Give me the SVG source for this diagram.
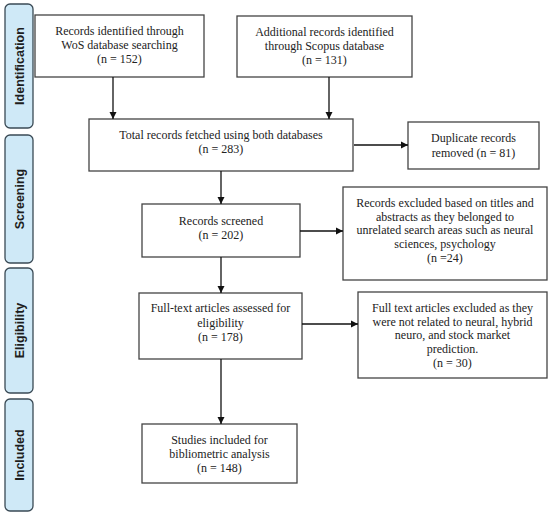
<svg xmlns="http://www.w3.org/2000/svg" width="550" height="517" viewBox="0 0 550 517">
<style>
.stage rect{fill:#cfe9f7;stroke:#3a4a55;stroke-width:1.3}
.stage text{font-family:"Liberation Sans",Arial,sans-serif;font-weight:bold;font-size:12.5px;fill:#1e1e1e;text-anchor:middle}
.box rect{fill:#fff;stroke:#444;stroke-width:1.3}
.box text{font-family:"Liberation Serif","Times New Roman",serif;font-size:12px;fill:#222;text-anchor:middle}
.conn line{stroke:#111;stroke-width:1.3;marker-end:url(#ah)}
</style>
<defs>
<marker id="ah" markerWidth="8" markerHeight="8" refX="7" refY="4" orient="auto" markerUnits="userSpaceOnUse">
<path d="M0,0.5 L7,4 L0,7.5 Z" fill="#111"/>
</marker>
</defs>
<rect width="550" height="517" fill="#fff"/>
<g id="stage-identification" class="stage"><rect x="5" y="4" width="28" height="124" rx="5"/><text transform="translate(23.5,66) rotate(-90)">Identification</text></g>
<g id="stage-screening" class="stage"><rect x="5" y="135" width="28" height="128" rx="5"/><text transform="translate(23.5,199) rotate(-90)">Screening</text></g>
<g id="stage-eligibility" class="stage"><rect x="5" y="268" width="28" height="125" rx="5"/><text transform="translate(23.5,330.5) rotate(-90)">Eligibility</text></g>
<g id="stage-included" class="stage"><rect x="5" y="399" width="28" height="112" rx="5"/><text transform="translate(23.5,455) rotate(-90)">Included</text></g>

<g id="n-wos" class="box"><rect x="35" y="15" width="169" height="62"/><text x="119.5" y="35">Records identified through</text><text x="119.5" y="48.5">WoS database searching</text><text x="119.5" y="62.5">(n = 152)</text></g>
<g id="n-scopus" class="box"><rect x="237" y="16" width="175" height="61"/><text x="324.5" y="36">Additional records identified</text><text x="324.5" y="49.5">through Scopus database</text><text x="324.5" y="63.5">(n = 131)</text></g>
<g id="n-total" class="box"><rect x="89" y="119" width="264" height="52"/><text x="221" y="139">Total records fetched using both databases</text><text x="221" y="152.5">(n = 283)</text></g>
<g id="n-dup" class="box"><rect x="408" y="122" width="131" height="47"/><text x="473.5" y="142">Duplicate records</text><text x="473.5" y="157">removed (n = 81)</text></g>
<g id="n-screened" class="box"><rect x="142" y="204" width="158" height="53"/><text x="221" y="225">Records screened</text><text x="221" y="238.5">(n = 202)</text></g>
<g id="n-excl1" class="box"><rect x="343" y="187" width="204" height="93"/><text x="445" y="207">Records excluded based on titles and</text><text x="445" y="220.7">abstracts as they belonged to</text><text x="445" y="234.4">unrelated search areas such as neural</text><text x="445" y="248">sciences, psychology</text><text x="445" y="262">(n =24)</text></g>
<g id="n-fulltext" class="box"><rect x="139" y="293" width="163" height="66"/><text x="220.5" y="312">Full-text articles assessed for</text><text x="220.5" y="326.5">eligibility</text><text x="220.5" y="341">(n = 178)</text></g>
<g id="n-excl2" class="box"><rect x="358" y="292" width="189" height="86"/><text x="452.5" y="312">Full text articles excluded as they</text><text x="452.5" y="325.7">were not related to neural, hybrid</text><text x="452.5" y="339.4">neuro, and stock market</text><text x="452.5" y="353">prediction.</text><text x="452.5" y="366.8">(n = 30)</text></g>
<g id="n-included" class="box"><rect x="142" y="424" width="155" height="59"/><text x="219.5" y="444">Studies included for</text><text x="219.5" y="458">bibliometric analysis</text><text x="219.5" y="472">(n = 148)</text></g>

<g id="connectors" class="conn">
<line x1="113" y1="77" x2="113" y2="119"/>
<line x1="329" y1="77" x2="329" y2="119"/>
<line x1="354" y1="145" x2="408" y2="145"/>
<line x1="221" y1="171" x2="221" y2="204"/>
<line x1="300" y1="231" x2="343" y2="231"/>
<line x1="221" y1="257" x2="221" y2="293"/>
<line x1="302" y1="324" x2="358" y2="324"/>
<line x1="221" y1="359" x2="221" y2="424"/>
</g>
</svg>
